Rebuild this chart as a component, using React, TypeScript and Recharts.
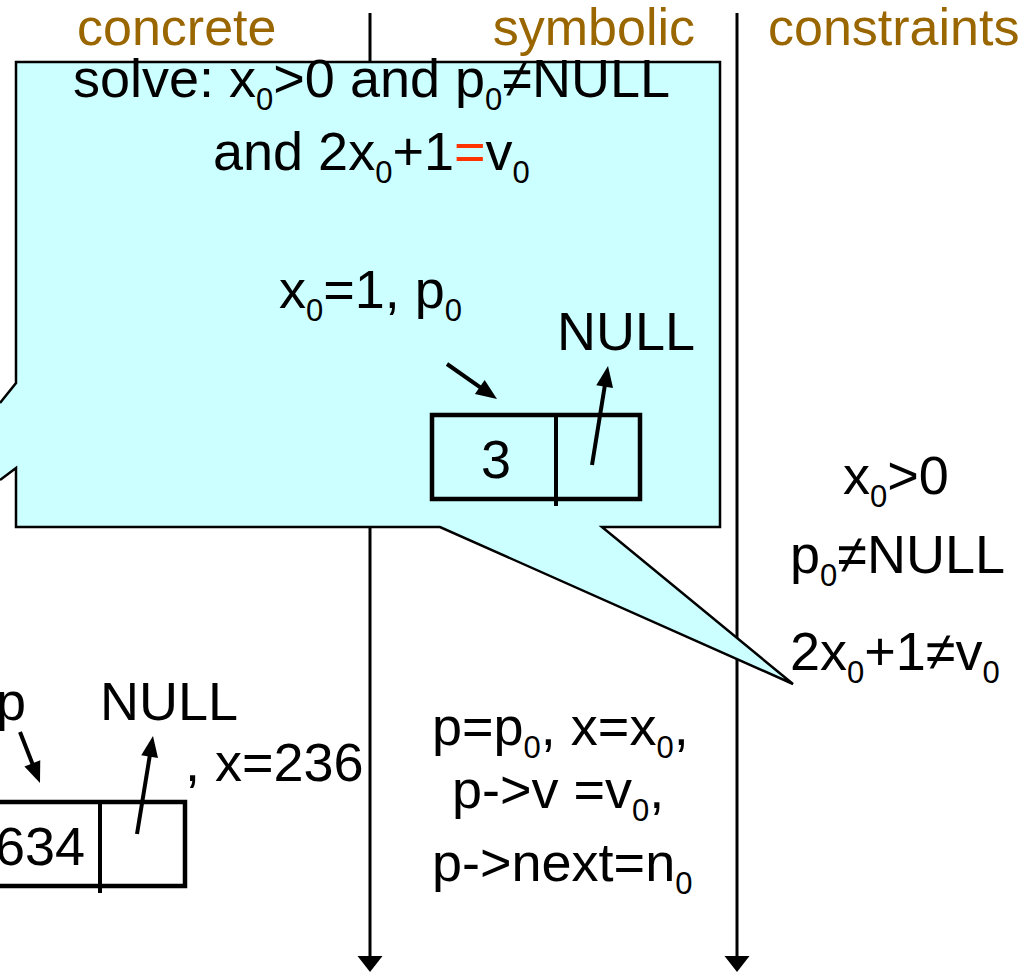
import React from 'react';
import { ComposedChart, XAxis, YAxis, Scatter } from 'recharts';

const W = 1032;
const H = 973;
const FONT = '"Liberation Sans", Arial, Helvetica, sans-serif';
const GOLD = '#996600';
const RED = '#FF3300';
const CYAN = '#CCFFFF';

// text: "_0" is a subscript, "[=]" is drawn red
type Label = { x: number; y: number; text: string; anchor?: 'start' | 'middle' | 'end' };

const headers: Label[] = [
  { x: 77, y: 45, text: 'concrete' },
  { x: 695, y: 45, text: 'symbolic', anchor: 'end' },
  { x: 768, y: 45, text: 'constraints' },
];

const calloutLabels: Label[] = [
  { x: 73, y: 97, text: 'solve: x_0>0 and p_0≠NULL' },
  { x: 213, y: 170, text: 'and 2x_0+1[=]v_0' },
  { x: 279, y: 308, text: 'x_0=1, p_0' },
  { x: 557, y: 350, text: 'NULL' },
  { x: 496, y: 478, text: '3', anchor: 'middle' },
];

const constraintLabels: Label[] = [
  { x: 843, y: 494, text: 'x_0>0' },
  { x: 790, y: 573, text: 'p_0≠NULL' },
  { x: 790, y: 670, text: '2x_0+1≠v_0' },
];

const concreteLabels: Label[] = [
  { x: -4, y: 720, text: 'p' },
  { x: 100, y: 720, text: 'NULL' },
  { x: 185, y: 781, text: ', x=236' },
  { x: 85, y: 865, text: '634', anchor: 'end' },
];

const symbolicLabels: Label[] = [
  { x: 432, y: 745, text: 'p=p_0, x=x_0,' },
  { x: 452, y: 808, text: 'p->v =v_0,' },
  { x: 432, y: 881, text: 'p->next=n_0' },
];

// callout balloon, traced in drawing order (closed along the left edge)
const calloutOutline = [
  { x: 0, y: 403 },
  { x: 16, y: 383 },
  { x: 16, y: 62 },
  { x: 720, y: 62 },
  { x: 720, y: 527 },
  { x: 602, y: 527 },
  { x: 793, y: 684 },
  { x: 440, y: 527 },
  { x: 16, y: 527 },
  { x: 16, y: 468 },
  { x: 0, y: 480 },
];

// list nodes: value cell + next cell
const nodes = [
  { x1: 432, x2: 640, y1: 415, y2: 499, split: 556 },
  { x1: -40, x2: 185, y1: 802, y2: 886, split: 100 },
];

const timeLines = [
  { x1: 370, y1: 13, x2: 370, y2: 972 },
  { x1: 737, y1: 13, x2: 737, y2: 972 },
];

const pointerArrows = [
  { x1: 447, y1: 364, x2: 497, y2: 399 },
  { x1: 592, y1: 465, x2: 608, y2: 366 },
  { x1: 20, y1: 732, x2: 40, y2: 783 },
  { x1: 137, y1: 834, x2: 153, y2: 736 },
];

type Arrow = { x1: number; y1: number; x2: number; y2: number };

function arrowSeries(list: Arrow[], len: number) {
  return list.map((a) => {
    const dx = a.x2 - a.x1;
    const dy = a.y2 - a.y1;
    const d = Math.hypot(dx, dy);
    return {
      shaft: [
        { x: a.x1, y: a.y1 },
        { x: a.x2 - (dx / d) * len * 0.6, y: a.y2 - (dy / d) * len * 0.6 },
      ],
      head: [{ x: a.x2, y: a.y2, angle: (Math.atan2(dy, dx) * 180) / Math.PI }],
    };
  });
}

function parts(text: string) {
  return text
    .split(/(_\w|\[[^\]]+\])/)
    .filter(Boolean)
    .map((s) => {
      if (s.startsWith('_')) return { t: s.slice(1), sub: true, red: false };
      if (s.startsWith('[')) return { t: s.slice(1, -1), sub: false, red: true };
      return { t: s, sub: false, red: false };
    });
}

const labelShape = (color: string, size: number) => (props: any) => {
  const { cx, cy, payload } = props;
  let shift = 0;
  return (
    <text
      x={cx}
      y={cy}
      textAnchor={payload.anchor || 'start'}
      fill={color}
      fontSize={size}
      fontFamily={FONT}
    >
      {parts(payload.text).map((p, i) => {
        const target = p.sub ? 13 : 0;
        const dy = target - shift;
        shift = target;
        return (
          <tspan key={i} dy={dy} fontSize={p.sub ? 31 : undefined} fill={p.red ? RED : undefined}>
            {p.t}
          </tspan>
        );
      })}
    </text>
  );
};

const headShape = (len: number, wid: number) => (props: any) => {
  const { cx, cy, payload } = props;
  return (
    <polygon
      points={`0,0 ${-len},${-wid / 2} ${-len},${wid / 2}`}
      transform={`translate(${cx},${cy}) rotate(${payload.angle})`}
      fill="#000"
    />
  );
};

const noDot = () => <g />;

function Labels({ data, color = '#000', size = 54 }: { data: Label[]; color?: string; size?: number }) {
  return <Scatter data={data} shape={labelShape(color, size)} isAnimationActive={false} />;
}

export default function App() {
  const timeSeries = arrowSeries(timeLines, 16);
  const ptrSeries = arrowSeries(pointerArrows, 21);

  return (
    <div style={{ position: 'absolute', left: 0, top: 0, width: W, height: H, background: '#fff' }}>
      <ComposedChart width={W} height={H} margin={{ top: 0, right: 0, bottom: 0, left: 0 }}>
        <XAxis type="number" dataKey="x" domain={[0, W]} allowDataOverflow hide />
        <YAxis type="number" dataKey="y" domain={[0, H]} reversed allowDataOverflow hide />

        {timeSeries.map((s, i) => (
          <React.Fragment key={`t${i}`}>
            <Scatter data={s.shaft} line={{ stroke: '#000', strokeWidth: 3 }} shape={noDot} isAnimationActive={false} />
            <Scatter data={s.head} shape={headShape(16, 25)} isAnimationActive={false} />
          </React.Fragment>
        ))}

        <Scatter
          data={calloutOutline}
          line={{ stroke: '#000', strokeWidth: 2.5, fill: CYAN, strokeLinejoin: 'miter' }}
          shape={noDot}
          isAnimationActive={false}
        />

        {nodes.map((n, i) => (
          <React.Fragment key={`n${i}`}>
            <Scatter
              data={[
                { x: n.x1, y: n.y1 },
                { x: n.x2, y: n.y1 },
                { x: n.x2, y: n.y2 },
                { x: n.x1, y: n.y2 },
                { x: n.x1, y: n.y1 },
              ]}
              line={{ stroke: '#000', strokeWidth: 4.5, strokeLinecap: 'square' }}
              shape={noDot}
              isAnimationActive={false}
            />
            <Scatter
              data={[
                { x: n.split, y: n.y1 - 2 },
                { x: n.split, y: n.y2 + 7 },
              ]}
              line={{ stroke: '#000', strokeWidth: 4 }}
              shape={noDot}
              isAnimationActive={false}
            />
          </React.Fragment>
        ))}

        {ptrSeries.map((s, i) => (
          <React.Fragment key={`p${i}`}>
            <Scatter data={s.shaft} line={{ stroke: '#000', strokeWidth: 4 }} shape={noDot} isAnimationActive={false} />
            <Scatter data={s.head} shape={headShape(21, 17)} isAnimationActive={false} />
          </React.Fragment>
        ))}

        <Labels data={headers} color={GOLD} size={52} />
        <Labels data={calloutLabels} />
        <Labels data={constraintLabels} />
        <Labels data={concreteLabels} />
        <Labels data={symbolicLabels} />
      </ComposedChart>
    </div>
  );
}
